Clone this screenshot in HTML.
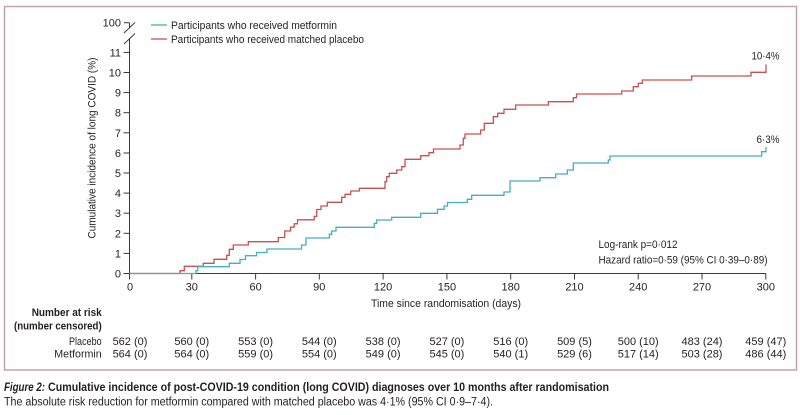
<!DOCTYPE html>
<html>
<head>
<meta charset="utf-8">
<style>
  html, body { margin:0; padding:0; background:#ffffff; }
  svg { display:block; }
  text { font-family: "Liberation Sans", "DejaVu Sans", sans-serif; fill:#231f20; }
</style>
</head>
<body>
<svg width="800" height="415" viewBox="0 0 800 415" xmlns="http://www.w3.org/2000/svg">
  <!-- frame -->
  <rect x="4.5" y="6.5" width="792" height="363.5" fill="none" stroke="#c3a3aa" stroke-width="1.5"/>

  <!-- legend -->
  <line x1="151" y1="25" x2="167" y2="25" stroke="#45afbc" stroke-width="1.3"/>
  <line x1="151" y1="39" x2="167" y2="39" stroke="#c9504f" stroke-width="1.3"/>
  <text x="171" y="29" font-size="11" textLength="166" lengthAdjust="spacingAndGlyphs">Participants who received metformin</text>
  <text x="171" y="43" font-size="11" textLength="193" lengthAdjust="spacingAndGlyphs">Participants who received matched placebo</text>

  <!-- y axis -->
  <g stroke="#3a3a3a" stroke-width="1" fill="none">
    <line x1="129.5" y1="22.7" x2="129.5" y2="28"/>
    <line x1="124" y1="22.7" x2="129.5" y2="22.7"/>
    <line x1="124" y1="33" x2="135" y2="22.5"/>
    <line x1="124" y1="44" x2="135" y2="33.5"/>
    <line x1="129.5" y1="39" x2="129.5" y2="274"/>
    <line x1="123.5" y1="52.4" x2="129.5" y2="52.4"/>
    <line x1="123.5" y1="72.5" x2="129.5" y2="72.5"/>
    <line x1="123.5" y1="92.6" x2="129.5" y2="92.6"/>
    <line x1="123.5" y1="112.7" x2="129.5" y2="112.7"/>
    <line x1="123.5" y1="132.8" x2="129.5" y2="132.8"/>
    <line x1="123.5" y1="153" x2="129.5" y2="153"/>
    <line x1="123.5" y1="173" x2="129.5" y2="173"/>
    <line x1="123.5" y1="193.1" x2="129.5" y2="193.1"/>
    <line x1="123.5" y1="213.2" x2="129.5" y2="213.2"/>
    <line x1="123.5" y1="233.3" x2="129.5" y2="233.3"/>
    <line x1="123.5" y1="253.4" x2="129.5" y2="253.4"/>
    <line x1="123.5" y1="273.5" x2="129.5" y2="273.5"/>
  </g>
  <g font-size="11" text-anchor="end">
    <text x="121" y="26.7">100</text>
    <text x="121" y="56.4">11</text>
    <text x="121" y="76.5">10</text>
    <text x="121" y="96.6">9</text>
    <text x="121" y="116.7">8</text>
    <text x="121" y="136.8">7</text>
    <text x="121" y="157">6</text>
    <text x="121" y="177">5</text>
    <text x="121" y="197.1">4</text>
    <text x="121" y="217.2">3</text>
    <text x="121" y="237.3">2</text>
    <text x="121" y="257.4">1</text>
    <text x="121" y="277.5">0</text>
  </g>
  <text transform="translate(95.5,148) rotate(-90)" font-size="11" text-anchor="middle" textLength="181" lengthAdjust="spacingAndGlyphs">Cumulative incidence of long COVID (%)</text>

  <!-- x axis -->
  <g stroke="#3a3a3a" stroke-width="1" fill="none">
    <line x1="129.5" y1="273.5" x2="766" y2="273.5"/>
    <line x1="129.5" y1="273.5" x2="129.5" y2="279.5"/>
    <line x1="191.8" y1="273.5" x2="191.8" y2="279.5"/>
    <line x1="255.6" y1="273.5" x2="255.6" y2="279.5"/>
    <line x1="319.3" y1="273.5" x2="319.3" y2="279.5"/>
    <line x1="383.1" y1="273.5" x2="383.1" y2="279.5"/>
    <line x1="446.9" y1="273.5" x2="446.9" y2="279.5"/>
    <line x1="510.7" y1="273.5" x2="510.7" y2="279.5"/>
    <line x1="574.5" y1="273.5" x2="574.5" y2="279.5"/>
    <line x1="638.2" y1="273.5" x2="638.2" y2="279.5"/>
    <line x1="702" y1="273.5" x2="702" y2="279.5"/>
    <line x1="765.8" y1="273.5" x2="765.8" y2="279.5"/>
  </g>
  <g font-size="11" text-anchor="middle">
    <text x="130" y="290.7">0</text>
    <text x="191.8" y="290.7">30</text>
    <text x="255.6" y="290.7">60</text>
    <text x="319.3" y="290.7">90</text>
    <text x="383.1" y="290.7">120</text>
    <text x="446.9" y="290.7">150</text>
    <text x="510.7" y="290.7">180</text>
    <text x="574.5" y="290.7">210</text>
    <text x="638.2" y="290.7">240</text>
    <text x="702" y="290.7">270</text>
    <text x="765.8" y="290.7">300</text>
  </g>
  <text x="371" y="307" font-size="11" textLength="150" lengthAdjust="spacingAndGlyphs">Time since randomisation (days)</text>

  <!-- curves -->
  <path fill="none" stroke="#c9504f" stroke-width="1.3" d="M129.5,273.5 H180 V270.7 H184.3 V266.3 H203.3 V263.3 H214 V259.3 H226.7 V255.3 H229.3 V249.3 H233.3 V245 H248.3 V241.7 H278.3 V237.5 H284.7 V231 H290.5 V227.2 H294.2 V223.8 H297.5 V219.8 H314.2 V216.4 H316.7 V209.5 H321 V206 H327.3 V202.3 H341.7 V197.3 H345 V194.3 H350.7 V191 H359.3 V188.3 H385 V181.7 H386.7 V176.7 H389.3 V173.3 H396.7 V170 H401.7 V166.7 H405 V159.3 H420.7 V155.7 H429 V152.7 H433.5 V149 H460 V145 H463.3 V138.3 H465 V134 H480.7 V130 H484.3 V123.3 H493.3 V116.7 H497.7 V113.3 H504 V109.3 H515.7 V105 H548.3 V101.7 H573.3 V97.7 H576.5 V94 H621.7 V91 H633.3 V86.7 H638.3 V83.3 H642.3 V80 H691.7 V76 H751 V72.3 H766 V64.5"/>
  <path fill="none" stroke="#45afbc" stroke-width="1.3" d="M129.5,273.5 H196 V270.7 H197.7 V266.7 H229.3 V263.3 H240 V259.5 H245.5 V255.7 H256.5 V252.5 H267 V249 H301.5 V245 H306 V238 H329.3 V234.3 H331.7 V231 H336 V227.3 H374.3 V223.3 H376.7 V220 H391.7 V217.3 H420.7 V213.3 H437.5 V209.3 H444.2 V206 H447.5 V202.5 H467.3 V199.3 H471.7 V195.3 H504 V192 H510 V181 H540 V177.7 H555.7 V174 H567.3 V170 H573.3 V163 H608.3 V160 H610 V156 H761.7 V151.7 H766 V147"/>

  <!-- end labels -->
  <text x="751.5" y="59.5" font-size="11" textLength="28" lengthAdjust="spacingAndGlyphs">10·4%</text>
  <text x="756.5" y="143" font-size="11" textLength="23" lengthAdjust="spacingAndGlyphs">6·3%</text>

  <!-- stats -->
  <text x="598.5" y="248" font-size="11" textLength="79" lengthAdjust="spacingAndGlyphs">Log-rank p=0·012</text>
  <text x="598.5" y="263.5" font-size="11" textLength="169" lengthAdjust="spacingAndGlyphs">Hazard ratio=0·59 (95% CI 0·39–0·89)</text>

  <!-- risk table -->
  <text x="101.7" y="316" font-size="11" font-weight="bold" text-anchor="end" textLength="70" lengthAdjust="spacingAndGlyphs">Number at risk</text>
  <text x="101.7" y="329.5" font-size="11" font-weight="bold" text-anchor="end" textLength="87.7" lengthAdjust="spacingAndGlyphs">(number censored)</text>
  <text x="101.7" y="345" font-size="11" text-anchor="end" textLength="32.7" lengthAdjust="spacingAndGlyphs">Placebo</text>
  <text x="101.7" y="357.3" font-size="11" text-anchor="end" textLength="47.4" lengthAdjust="spacingAndGlyphs">Metformin</text>
  <g font-size="11" text-anchor="middle">
    <text x="130" y="345">562 (0)</text>
    <text x="191.8" y="345">560 (0)</text>
    <text x="255.6" y="345">553 (0)</text>
    <text x="319.3" y="345">544 (0)</text>
    <text x="383.1" y="345">538 (0)</text>
    <text x="446.9" y="345">527 (0)</text>
    <text x="510.7" y="345">516 (0)</text>
    <text x="574.5" y="345">509 (5)</text>
    <text x="638.2" y="345">500 (10)</text>
    <text x="702" y="345">483 (24)</text>
    <text x="765.8" y="345">459 (47)</text>

    <text x="130" y="357.3">564 (0)</text>
    <text x="191.8" y="357.3">564 (0)</text>
    <text x="255.6" y="357.3">559 (0)</text>
    <text x="319.3" y="357.3">554 (0)</text>
    <text x="383.1" y="357.3">549 (0)</text>
    <text x="446.9" y="357.3">545 (0)</text>
    <text x="510.7" y="357.3">540 (1)</text>
    <text x="574.5" y="357.3">529 (6)</text>
    <text x="638.2" y="357.3">517 (14)</text>
    <text x="702" y="357.3">503 (28)</text>
    <text x="765.8" y="357.3">486 (44)</text>
  </g>

  <!-- caption -->
  <text x="4" y="391" font-size="12" font-weight="bold" font-style="italic" textLength="41" lengthAdjust="spacingAndGlyphs">Figure 2:</text>
  <text x="48" y="391" font-size="12" font-weight="bold" textLength="561" lengthAdjust="spacingAndGlyphs">Cumulative incidence of post-COVID-19 condition (long COVID) diagnoses over 10 months after randomisation</text>
  <text x="4" y="405.5" font-size="11.5" textLength="489" lengthAdjust="spacingAndGlyphs">The absolute risk reduction for metformin compared with matched placebo was 4·1% (95% CI 0·9–7·4).</text>
</svg>
</body>
</html>
